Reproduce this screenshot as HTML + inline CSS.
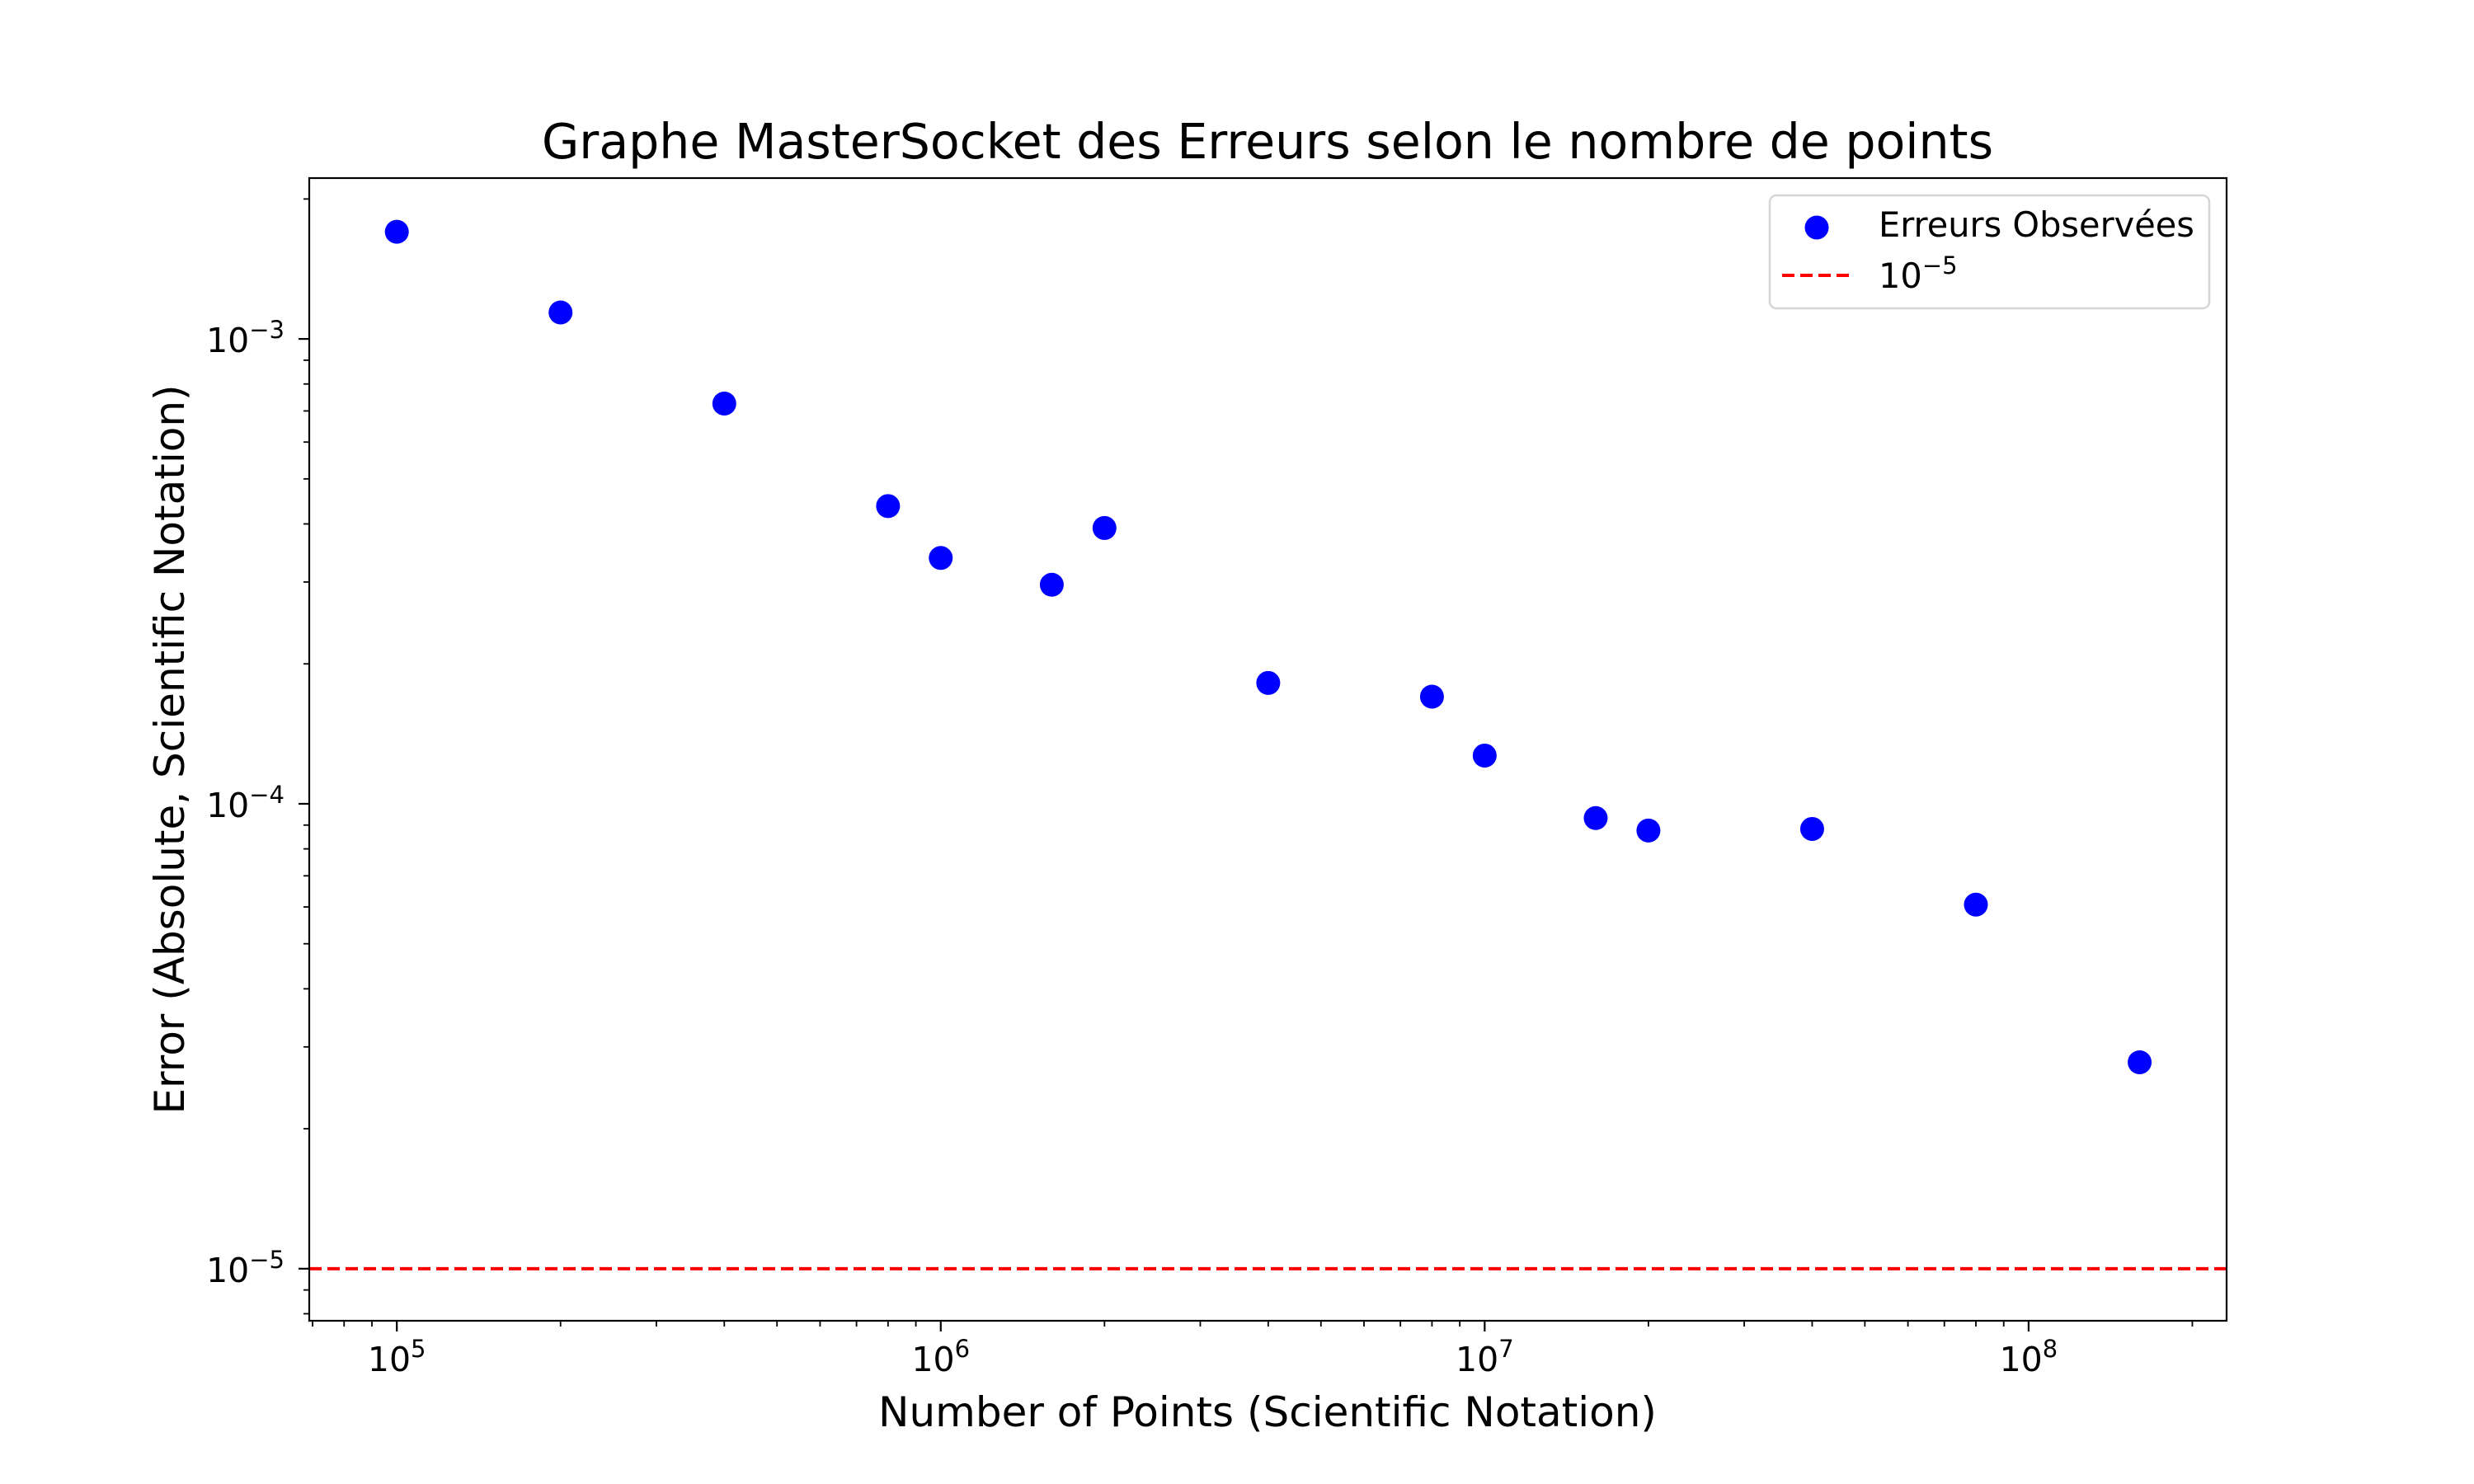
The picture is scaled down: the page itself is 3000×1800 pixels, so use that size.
<!DOCTYPE html>
<html><head><meta charset="utf-8"><style>
html,body{margin:0;padding:0;background:#fff}
svg{display:block;font-family:"DejaVu Sans","Liberation Sans",sans-serif}
</style></head><body>
<svg id="chart" width="3000" height="1800" viewBox="0 0 3000 1800" xmlns="http://www.w3.org/2000/svg">
<rect width="3000" height="1800" fill="#fff"/>
<text x="1537" y="192" font-size="58.5" text-anchor="middle">Graphe MasterSocket des Erreurs selon le nombre de points</text>
<g id="grid"></g>
<g id="ticks"></g>
<g id="marks"></g>
<rect x="375" y="216" width="2325" height="1386" fill="none" stroke="#000" stroke-width="2.2"/>
<text x="1537" y="1730" font-size="50" text-anchor="middle">Number of Points (Scientific Notation)</text>
<text transform="translate(223,909) rotate(-90)" font-size="50" text-anchor="middle">Error (Absolute, Scientific Notation)</text>
<g>
<rect x="2146" y="237" width="533" height="137" rx="8" fill="#fff" fill-opacity="0.8" stroke="#d6d6d6" stroke-width="2.5"/>
<circle cx="2203" cy="276" r="14.5" fill="#0000ff"/>
<text x="2278" y="287" font-size="41.5">Erreurs Observées</text>
<line x1="2161" y1="334" x2="2242" y2="334" stroke="#ff0000" stroke-width="4" stroke-dasharray="15,7"/>
<text x="2278" y="349" font-size="41.5">10<tspan dy="-17" font-size="29">−5</tspan></text>
</g>
</svg>
<script>
const xValues=[1e5,2e5,4e5,8e5,1e6,1.6e6,2e6,4e6,8e6,1e7,1.6e7,2e7,4e7,8e7,1.6e8];
const yValues=[1.70e-3,1.14e-3,7.26e-4,4.37e-4,3.38e-4,2.96e-4,3.92e-4,1.82e-4,1.70e-4,1.27e-4,9.32e-5,8.76e-5,8.83e-5,6.07e-5,2.78e-5];
const threshold=[1e-5];
const xMajorExp=[5,6,7,8];
const yMajorExp=[-5,-4,-3];
const NS="http://www.w3.org/2000/svg";
const L=375,R=2700,T=216,B=1602;
const xMin=4.839,xMax=8.364,yMin=-5.112,yMax=-2.654;
function sx(v){return L+(Math.log10(v)-xMin)/(xMax-xMin)*(R-L);}
function sy(v){return B-(Math.log10(v)-yMin)/(yMax-yMin)*(B-T);}
function mk(tag,attrs,parent){const e=document.createElementNS(NS,tag);for(const k in attrs)e.setAttribute(k,attrs[k]);parent.appendChild(e);return e;}
const ticks=document.getElementById('ticks');
const marks=document.getElementById('marks');
for(let d=4;d<=8;d++){for(let m=1;m<10;m++){const v=m*Math.pow(10,d);const lv=Math.log10(v);if(lv<xMin||lv>xMax)continue;const x=sx(v);const major=m===1;
const t=mk('line',{x1:x,y1:B,x2:x,y2:B+(major?13:7),stroke:'#000','stroke-width':major?2.2:1.8},ticks);

}}
xMajorExp.forEach(e=>{const x=sx(Math.pow(10,e));const t=mk('text',{x:x,y:1663,'font-size':41,'text-anchor':'middle'},ticks);


t.textContent='10';const s=mk('tspan',{dy:-17,'font-size':29},t);s.textContent=String(e);});
for(let d=-6;d<=-3;d++){for(let m=1;m<10;m++){const v=m*Math.pow(10,d);const lv=Math.log10(v);if(lv<yMin||lv>yMax)continue;const y=sy(v);const major=m===1;
const t=mk('line',{x1:L,y1:y,x2:L-(major?13:7),y2:y,stroke:'#000','stroke-width':major?2.2:1.8},ticks);

}}
yMajorExp.forEach(e=>{const y=sy(Math.pow(10,e));const t=mk('text',{x:345,y:y+16,'font-size':41,'text-anchor':'end'},ticks);


t.textContent='10';const s=mk('tspan',{dy:-17,'font-size':29},t);s.textContent='−'+Math.abs(e);});
threshold.forEach(v=>{const y=sy(v);const l=mk('line',{x1:L,y1:y,x2:R,y2:y,stroke:'#ff0000','stroke-width':4,'stroke-dasharray':'15,7'},marks);

});
xValues.forEach((xv,i)=>{const c=mk('circle',{cx:sx(xv),cy:sy(yValues[i]),r:14.5,fill:'#0000ff'},marks);

});
</script>
</body></html>
